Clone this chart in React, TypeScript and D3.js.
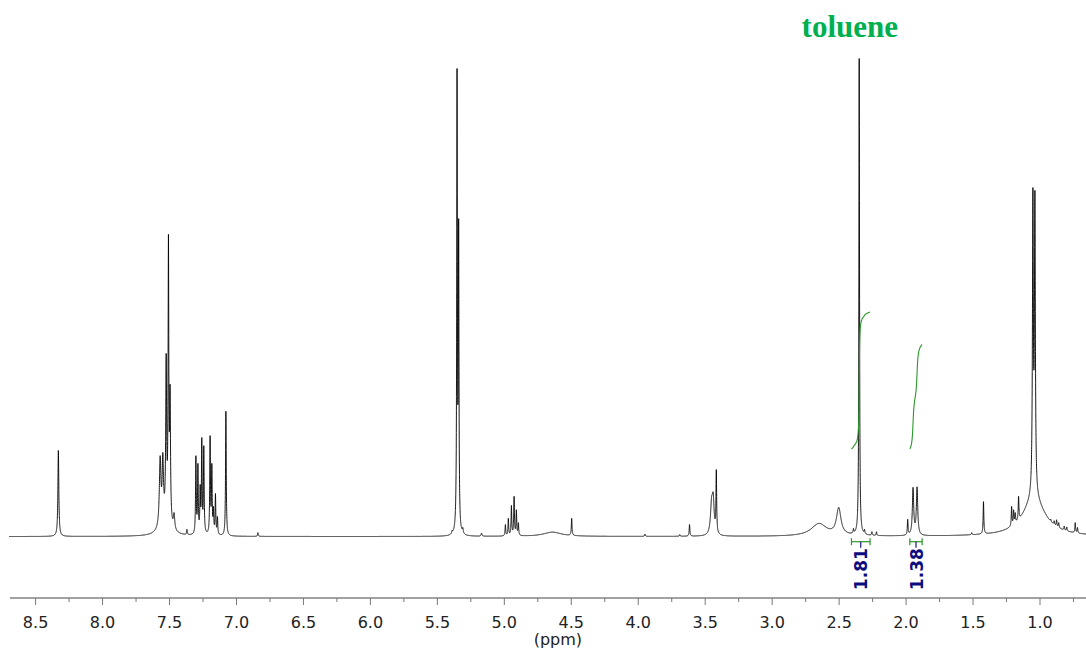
import React, { useMemo } from 'react';
import * as d3 from 'd3';

const W = 1086;
const H = 655;

// Resolved lines: chemical shift (ppm), observed height (% of tallest line), half-width (ppm)
const peakShift = [
  8.33, 7.57, 7.55, 7.525, 7.508, 7.496, 7.466, 7.37,
  7.303, 7.288, 7.271, 7.259, 7.244, 7.197, 7.184, 7.172, 7.157, 7.142, 7.079, 6.84,
  5.39, 5.353, 5.341, 5.31, 5.17,
  4.992, 4.97, 4.947, 4.927, 4.91, 4.895, 4.497,
  3.95, 3.69, 3.617, 3.452, 3.44, 3.417,
  2.503, 2.393, 2.35, 2.31, 2.255, 2.221,
  1.988, 1.948, 1.918, 1.51, 1.422,
  1.212, 1.197, 1.185, 1.16, 1.148, 1.053, 1.038,
  0.919, 0.894, 0.876, 0.86, 0.819, 0.8, 0.737, 0.72,
];
const peakHeight = [
  18.0, 16.9, 17.6, 38.3, 63.2, 31.8, 5.0, 1.5,
  16.9, 15.3, 10.9, 20.7, 19.0, 21.1, 15.3, 6.3, 9.0, 4.2, 26.2, 0.8,
  1.3, 97.9, 66.5, 1.9, 0.7,
  2.5, 3.8, 6.5, 8.4, 5.6, 2.9, 3.8,
  0.5, 0.4, 2.5, 8.4, 9.2, 14.0,
  6.1, 1.7, 100, 1.5, 1.0, 1.0,
  3.6, 10.3, 10.4, 0.8, 7.3,
  6.3, 5.6, 5.0, 8.4, 4.2, 73.0, 72.4,
  3.6, 3.3, 3.5, 2.9, 2.2, 2.0, 2.9, 1.9,
];
const peakWidth = [
  0.004, 0.007, 0.006, 0.004, 0.003, 0.004, 0.006, 0.003,
  0.003, 0.003, 0.003, 0.003, 0.003, 0.003, 0.003, 0.003, 0.003, 0.003, 0.003, 0.003,
  0.004, 0.0028, 0.0028, 0.004, 0.004,
  0.003, 0.003, 0.003, 0.003, 0.003, 0.003, 0.003,
  0.003, 0.003, 0.003, 0.01, 0.008, 0.003,
  0.02, 0.003, 0.0028, 0.003, 0.003, 0.003,
  0.003, 0.006, 0.006, 0.003, 0.003,
  0.003, 0.003, 0.003, 0.003, 0.003, 0.004, 0.004,
  0.003, 0.003, 0.003, 0.003, 0.003, 0.003, 0.003, 0.003,
];

// Broad underlying humps
const broadShift = [7.53, 4.64, 2.65, 1.045];
const broadHeight = [2.2, 0.9, 2.6, 7.8];
const broadWidth = [0.05, 0.08, 0.07, 0.1];

const majorTicks = [8.5, 8.0, 7.5, 7.0, 6.5, 6.0, 5.5, 5.0, 4.5, 4.0, 3.5, 3.0, 2.5, 2.0, 1.5, 1.0];
const minorTicks = [8.25, 7.75, 7.25, 6.75, 6.25, 5.75, 5.25, 4.75, 4.25, 3.75, 3.25, 2.75, 2.25, 1.75, 1.25, 0.75];

const integralStart = [2.408, 1.972];
const integralEnd = [2.269, 1.88];
const integralValue = ['1.81', '1.38'];

const solventLabel = 'toluene';
const solventShift = 2.42;
const axisTitle = '(ppm)';
const axisTitleShift = 4.6;

function lor(x: number, c: number, h: number, g: number) {
  const d = x - c;
  return (h * g * g) / (d * d + g * g);
}

export default function App() {
  const x = d3.scaleLinear().domain([8.5, 1.0]).range([35.6, 1040]);
  const y = d3.scaleLinear().domain([0, 100]).range([536.5, 58.5]);
  const yInt = d3.scaleLinear().domain([0, 1.81]).range([449, 312]);
  const axisY = 598;

  const { specPath, integralPaths } = useMemo(() => {
    const broadAt = (p: number) => {
      let s = 0;
      for (let i = 0; i < broadShift.length; i++) s += lor(p, broadShift[i], broadHeight[i], broadWidth[i]);
      return s;
    };
    const amps = peakHeight.slice();
    const sumAt = (p: number) => {
      let s = broadAt(p);
      for (let i = 0; i < peakShift.length; i++) s += lor(p, peakShift[i], amps[i], peakWidth[i]);
      return s;
    };
    for (let it = 0; it < 120; it++) {
      const sums = peakShift.map((c) => sumAt(c));
      for (let i = 0; i < amps.length; i++) {
        amps[i] = Math.max(0, amps[i] + 0.5 * (peakHeight[i] - sums[i]));
      }
    }
    const left = x.invert(9);
    const right = x.invert(W + 1);
    const n = 24000;
    const pts: number[] = d3.range(n + 1).map((i) => left + ((right - left) * i) / n);
    peakShift.forEach((c) => pts.push(c));
    pts.sort((a, b) => b - a);
    const line = d3
      .line<number>()
      .x((p) => x(p))
      .y((p) => y(sumAt(p)));
    const specPath = line(pts) || '';

    const integralPaths = integralStart.map((s, k) => {
      const e = integralEnd[k];
      const m = 1500;
      const ps = d3.range(m + 1).map((i) => s + ((e - s) * i) / m);
      const vals = ps.map((p) => sumAt(p));
      const cum: number[] = [0];
      for (let i = 1; i < ps.length; i++) {
        cum.push(cum[i - 1] + ((vals[i] + vals[i - 1]) / 2) * Math.abs(ps[i] - ps[i - 1]));
      }
      const total = cum[cum.length - 1];
      const v = parseFloat(integralValue[k]);
      const l = d3
        .line<number>()
        .x((_, i) => x(ps[i]))
        .y((_, i) => yInt((cum[i] / total) * v));
      return l(ps) || '';
    });
    return { specPath, integralPaths };
  }, []);

  const bracketY = 541.7;

  return (
    <svg
      width={W}
      height={H}
      style={{ position: 'absolute', left: 0, top: 0, background: '#fff' }}
      fontFamily="'DejaVu Sans', Verdana, sans-serif"
    >
      <rect x={0} y={0} width={W} height={H} fill="#fff" />
      <path d={specPath} fill="none" stroke="#000" strokeWidth={0.9} strokeLinejoin="round" />
      {integralPaths.map((d, k) => (
        <path key={'int' + k} d={d} fill="none" stroke="#2a962a" strokeWidth={1.1} />
      ))}
      {integralStart.map((s, k) => {
        const x1 = x(s);
        const x2 = x(integralEnd[k]);
        const cx = (x1 + x2) / 2;
        return (
          <g key={'br' + k}>
            <line x1={x1} x2={x2} y1={bracketY} y2={bracketY} stroke="#2a962a" strokeWidth={1.2} />
            <line x1={x1} x2={x1} y1={bracketY - 3.5} y2={bracketY + 3.5} stroke="#2a962a" strokeWidth={1.2} />
            <line x1={x2} x2={x2} y1={bracketY - 3.5} y2={bracketY + 3.5} stroke="#2a962a" strokeWidth={1.2} />
            <line x1={cx} x2={cx} y1={bracketY} y2={bracketY + 6} stroke="#1a1a8a" strokeWidth={1.2} />
            <text
              transform={`translate(${cx + 0.5},${bracketY + 6.5}) rotate(-90)`}
              textAnchor="end"
              dy="0.36em"
              fontSize={17}
              fontWeight="bold"
              fill="#0c0c80"
            >
              {integralValue[k]}
            </text>
          </g>
        );
      })}
      <text
        x={x(solventShift)}
        y={37}
        textAnchor="middle"
        fontFamily="'Liberation Serif', 'Times New Roman', serif"
        fontWeight="bold"
        fontSize={31}
        fill="#00b050"
      >
        {solventLabel}
      </text>
      <line x1={10} x2={W} y1={axisY} y2={axisY} stroke="#444" strokeWidth={1} />
      {majorTicks.map((t) => (
        <g key={'mt' + t}>
          <line x1={x(t)} x2={x(t)} y1={axisY} y2={axisY + 7} stroke="#777" strokeWidth={1} />
          <text x={x(t)} y={628} textAnchor="middle" fontSize={16} fill="#222">
            {t.toFixed(1)}
          </text>
        </g>
      ))}
      {minorTicks.map((t) => (
        <line key={'mn' + t} x1={x(t)} x2={x(t)} y1={axisY} y2={axisY + 4} stroke="#777" strokeWidth={1} />
      ))}
      <text x={x(axisTitleShift)} y={645} textAnchor="middle" fontSize={16} fill="#222">
        {axisTitle}
      </text>
    </svg>
  );
}
